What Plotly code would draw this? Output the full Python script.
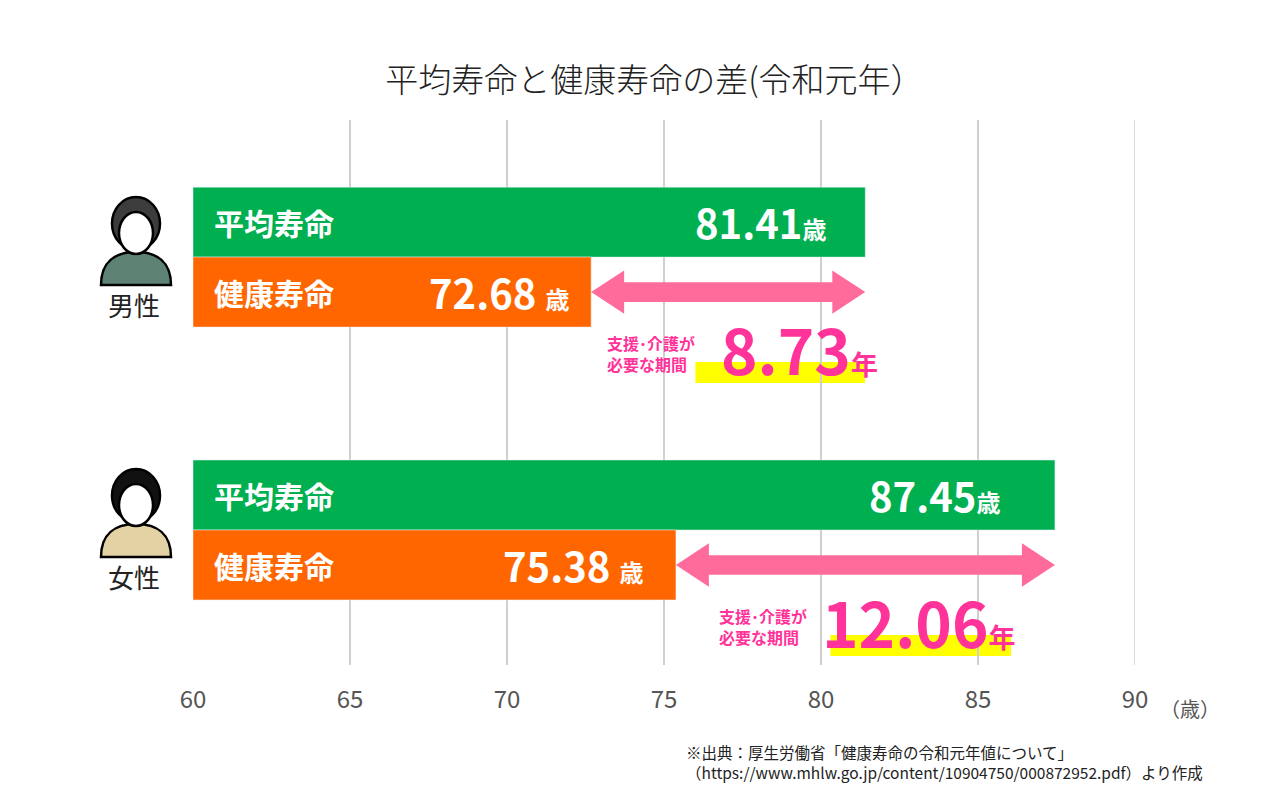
import plotly.graph_objects as go

genders = ["男性", "女性"]
avg_life = [81.41, 87.45]
healthy_life = [72.68, 75.38]
gap = [8.73, 12.06]
ticks = [60, 65, 70, 75, 80, 85, 90]

GREEN = "#00B050"; ORANGE = "#FF6600"; PINK = "#FF3399"; ARROW = "#FF6C9C"; YEL = "#FFFF00"
FONT = "Noto Sans CJK JP"
ycen = [0, 3.9]  # group offsets

fig = go.Figure()
for i in range(2):
    fig.add_trace(go.Bar(x=[avg_life[i] - 60], base=60, y=[ycen[i]], orientation="h",
                         marker_color=GREEN, width=1, hoverinfo="skip"))
    fig.add_trace(go.Bar(x=[healthy_life[i] - 60], base=60, y=[ycen[i] + 1], orientation="h",
                         marker_color=ORANGE, width=1, hoverinfo="skip"))

ann = []
shapes = []
g_off = [1.2, 1.7]; o_off = [0.65, 1.0]
num_x = [79.3, 83.1]; lab_x = [74.6, 78.15]; hl = [(76.0, 81.4), (80.3, 86.05)]
for i in range(2):
    y0 = ycen[i]
    ann.append(dict(x=60.6, y=y0, text="<b>平均寿命</b>", xanchor="left", showarrow=False,
                    font=dict(size=30, color="white", family=FONT)))
    ann.append(dict(x=60.6, y=y0 + 1, text="<b>健康寿命</b>", xanchor="left", showarrow=False,
                    font=dict(size=30, color="white", family=FONT)))
    ann.append(dict(x=avg_life[i] - g_off[i], y=y0, xanchor="right", showarrow=False,
                    text=f"<b>{avg_life[i]:.2f}<span style='font-size:24px'>歳</span></b>",
                    font=dict(size=40, color="white", family=FONT)))
    ann.append(dict(x=healthy_life[i] - o_off[i], y=y0 + 1, xanchor="right", showarrow=False,
                    text=f"<b>{healthy_life[i]:.2f} <span style='font-size:24px'>歳</span></b>",
                    font=dict(size=40, color="white", family=FONT)))
    a, b = healthy_life[i], avg_life[i]
    yc = y0 + 1
    shapes.append(dict(type="rect", x0=a + 1.0, x1=b - 1.0, y0=yc - 0.14, y1=yc + 0.14,
                       fillcolor=ARROW, line_width=0, layer="above"))
    shapes.append(dict(type="path", path=f"M {a} {yc} L {a+1.05} {yc-0.31} L {a+1.05} {yc+0.31} Z",
                       fillcolor=ARROW, line_width=0, layer="above"))
    shapes.append(dict(type="path", path=f"M {b} {yc} L {b-1.05} {yc-0.31} L {b-1.05} {yc+0.31} Z",
                       fillcolor=ARROW, line_width=0, layer="above"))
    shapes.append(dict(type="rect", x0=hl[i][0], x1=hl[i][1], y0=y0 + 2.0, y1=y0 + 2.3,
                       fillcolor=YEL, line_width=0, layer="below"))
    ann.append(dict(x=lab_x[i], y=y0 + 1.88, text="<b>支援･介護が<br>必要な期間</b>", showarrow=False,
                    font=dict(size=16, color=PINK, family=FONT), align="left"))
    ann.append(dict(x=num_x[i], y=y0 + 1.8, showarrow=False,
                    text=f"<b>{gap[i]:.2f}<span style='font-size:27px'>年</span></b>",
                    font=dict(size=62, color=PINK, family=FONT)))

def px(x): return (x - 193) / 942
def py(y): return (665 - y) / 545

for i, (cy, hair, shirt) in enumerate([(0, "#3C3C3C", "#5E8273"), (272, "#111111", "#E3D3A4")]):
    shapes.append(dict(type="path", xref="paper", yref="paper", layer="above",
                       path=f"M {px(101)} {py(285+cy)} C {px(101)} {py(262+cy)} {px(115)} {py(252+cy)} {px(136)} {py(252+cy)} "
                            f"C {px(157)} {py(252+cy)} {px(171)} {py(262+cy)} {px(171)} {py(285+cy)} Z",
                       fillcolor=shirt, line=dict(color="black", width=2.5)))
    shapes.append(dict(type="circle", xref="paper", yref="paper", layer="above",
                       x0=px(112), x1=px(160), y0=py(197+cy), y1=py(250+cy),
                       fillcolor=hair, line=dict(color="black", width=2.5)))
    shapes.append(dict(type="circle", xref="paper", yref="paper", layer="above",
                       x0=px(119), x1=px(153), y0=py(212+cy), y1=py(254+cy),
                       fillcolor="white", line=dict(color="black", width=2.5)))
    ann.append(dict(x=px(134), y=py(304 + cy), xref="paper", yref="paper", xanchor="center",
                    yanchor="middle", text=genders[i], showarrow=False,
                    font=dict(size=26, color="#222", family=FONT)))

ann.append(dict(x=px(1158), y=py(708), xref="paper", yref="paper", xanchor="left", yanchor="middle",
                text="（歳）", showarrow=False, font=dict(size=20, color="#555", family=FONT)))
ann.append(dict(x=px(1205), y=py(762), xref="paper", yref="paper", xanchor="right", yanchor="middle",
                align="left",
                text="※出典：厚生労働省「健康寿命の令和元年値について」<br>（https://www.mhlw.go.jp/content/10904750/000872952.pdf）より作成",
                showarrow=False, font=dict(size=15.5, color="#222", family=FONT)))

fig.update_layout(
    width=1280, height=812, paper_bgcolor="white", plot_bgcolor="white",
    margin=dict(l=185, r=153, t=112, b=155), showlegend=False, barmode="overlay",
    title=dict(text="平均寿命と健康寿命の差(令和元年）", x=0.505, y=1 - 72 / 812, xanchor="center",
               yanchor="middle", font=dict(size=33, color="#222", family=FONT, weight=300)),
    xaxis=dict(range=[60, 90], tickvals=ticks, showgrid=True, gridcolor="#CFCFCF", gridwidth=1.5,
               zeroline=False, tickfont=dict(size=24, color="#555", family=FONT), ticks="",
               ticklabelstandoff=18, mirror=False),
    yaxis=dict(range=[6.33, -1.46], visible=False),
    annotations=ann, shapes=shapes + [dict(type="line", xref="x", yref="paper", x0=90, x1=90, y0=0, y1=1,
                                           line=dict(color="#CFCFCF", width=1.5), layer="below")],
    font=dict(family=FONT),
)
fig.write_html("out.html")
